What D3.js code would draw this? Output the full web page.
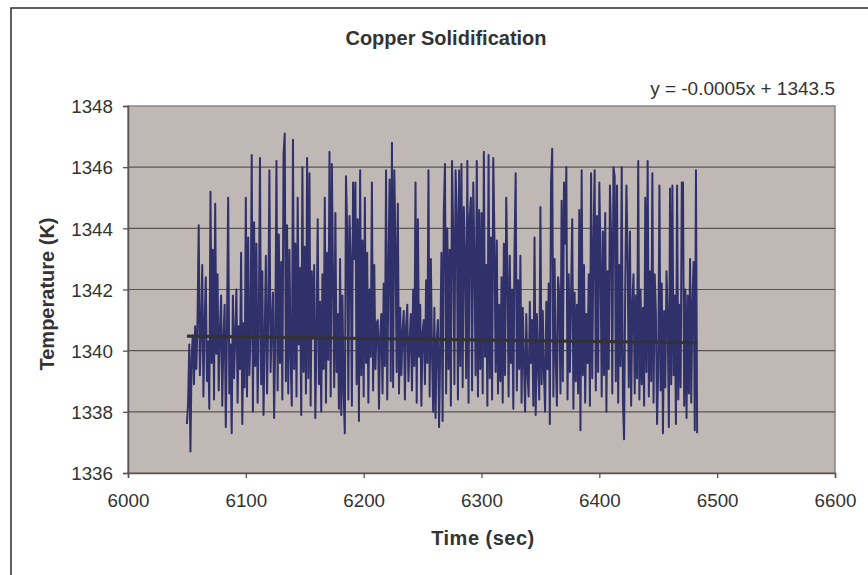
<!DOCTYPE html>
<html>
<head>
<meta charset="utf-8">
<script src="https://cdn.jsdelivr.net/npm/d3@7/dist/d3.min.js"></script>
<style>
  html, body { margin: 0; padding: 0; background: #fff; }
  svg { display: block; }
</style>
</head>
<body>
<svg id="chart" width="868" height="575"></svg>
<script>
// ---------------- DATA ----------------
const chartTitle = "Copper Solidification";
const xAxisTitle = "Time (sec)";
const yAxisTitle = "Temperature (K)";
const xTicks = [6000, 6100, 6200, 6300, 6400, 6500, 6600];
const yTicks = [1336, 1338, 1340, 1342, 1344, 1346, 1348];
const timeStart = 6050;   // sec, first sample
const timeStep = 1;       // sec between samples
const temperature = [
  1337.6, 1338.3, 1340.2, 1336.7, 1339.8, 1340.5, 1338.9, 1340.8, 1339.4, 1341.0,
  1344.1, 1339.2, 1340.6, 1342.8, 1338.5, 1340.9, 1342.4, 1339.0, 1340.3, 1338.1,
  1345.2, 1339.6, 1343.3, 1338.4, 1344.8, 1339.9, 1342.5, 1338.7, 1340.6, 1341.8,
  1338.2, 1340.4, 1341.5, 1337.5, 1340.7, 1345.0, 1338.6, 1340.2, 1337.3, 1341.8,
  1339.1, 1340.5, 1342.0, 1338.3, 1340.8, 1339.4, 1343.2, 1337.6, 1340.9, 1338.8,
  1345.0, 1338.5, 1343.7, 1339.2, 1340.6, 1346.4, 1338.0, 1344.2, 1339.5, 1343.5,
  1338.3, 1340.7, 1346.3, 1338.9, 1342.6, 1337.9, 1340.4, 1343.1, 1338.6, 1341.0,
  1345.9, 1339.3, 1340.8, 1341.9, 1337.8, 1340.5, 1346.2, 1338.7, 1343.8, 1339.6,
  1342.9, 1338.4, 1346.4, 1347.1, 1339.0, 1344.1, 1338.6, 1343.3, 1339.8, 1338.2,
  1346.9, 1339.4, 1343.5, 1338.5, 1345.0, 1340.2, 1342.7, 1337.9, 1346.0, 1339.3,
  1343.4, 1338.6, 1346.3, 1339.1, 1345.8, 1338.2, 1342.6, 1340.4, 1342.8, 1337.8,
  1340.6, 1344.3, 1338.9, 1341.6, 1338.0, 1342.5, 1339.4, 1345.0, 1338.3, 1343.2,
  1339.7, 1346.5, 1338.5, 1346.1, 1342.4, 1338.8, 1344.5, 1339.3, 1341.2, 1338.1,
  1343.0, 1337.9, 1341.8, 1338.6, 1337.3, 1345.7, 1344.0, 1338.4, 1344.4, 1343.0,
  1338.2, 1345.5, 1343.0, 1345.5, 1338.9, 1344.3, 1337.7, 1345.9, 1339.2, 1343.6,
  1338.5, 1345.0, 1339.6, 1343.2, 1338.3, 1342.0, 1339.8, 1345.5, 1338.7, 1342.8,
  1339.4, 1340.9, 1341.0, 1338.1, 1340.5, 1341.2, 1338.6, 1342.2, 1339.5, 1345.9,
  1338.4, 1342.6, 1345.6, 1339.0, 1346.8, 1338.8, 1345.9, 1343.5, 1339.3, 1344.8,
  1338.6, 1341.4, 1339.2, 1340.6, 1341.3, 1338.4, 1340.8, 1341.5, 1339.0, 1340.3,
  1341.2, 1338.7, 1342.0, 1339.5, 1345.5, 1338.3, 1344.3, 1339.8, 1341.5, 1338.2,
  1340.6, 1341.0, 1338.9, 1342.3, 1339.6, 1345.9, 1338.5, 1343.0, 1339.9, 1338.0,
  1341.4, 1337.8, 1340.3, 1341.0, 1337.5, 1340.1, 1343.2, 1337.7, 1344.5, 1346.1,
  1338.6, 1344.0, 1339.4, 1343.3, 1338.2, 1346.2, 1343.8, 1338.9, 1345.9, 1344.5,
  1338.4, 1345.9, 1339.5, 1346.1, 1338.8, 1344.7, 1343.2, 1339.1, 1346.2, 1338.3,
  1344.4, 1345.0, 1338.7, 1345.5, 1343.0, 1339.2, 1346.2, 1338.5, 1344.6, 1339.4,
  1344.5, 1338.6, 1346.5, 1339.8, 1342.8, 1338.2, 1346.4, 1339.1, 1343.7, 1338.4,
  1346.3, 1343.6, 1339.3, 1343.6, 1338.6, 1341.5, 1339.0, 1342.4, 1338.3, 1343.5,
  1339.2, 1345.0, 1342.5, 1338.5, 1343.1, 1339.6, 1342.0, 1338.1, 1343.2, 1345.8,
  1338.7, 1342.3, 1339.4, 1343.1, 1338.3, 1341.4, 1339.7, 1338.0, 1341.2, 1339.3,
  1338.5, 1341.6, 1339.6, 1341.0, 1338.2, 1343.7, 1337.9, 1341.2, 1339.5, 1338.4,
  1344.7, 1338.9, 1341.3, 1339.2, 1338.0, 1341.6, 1339.4, 1342.2, 1337.6, 1345.5,
  1346.6, 1338.5, 1343.0, 1339.7, 1338.2, 1342.4, 1341.8, 1338.6, 1344.9, 1339.0,
  1345.5, 1343.5, 1346.0, 1338.4, 1342.5, 1339.3, 1341.8, 1344.3, 1338.1, 1341.9,
  1339.0, 1341.5, 1338.6, 1344.6, 1337.4, 1345.9, 1339.2, 1342.8, 1338.3, 1341.2,
  1339.6, 1342.5, 1338.2, 1345.8, 1339.1, 1343.5, 1345.9, 1338.7, 1344.4, 1339.3,
  1345.5, 1343.0, 1338.5, 1343.9, 1339.2, 1344.5, 1338.0, 1342.6, 1339.4, 1345.4,
  1343.8, 1338.6, 1346.0, 1345.7, 1339.0, 1345.4, 1338.3, 1342.8, 1339.5, 1346.0,
  1338.4, 1337.1, 1342.2, 1345.4, 1343.0, 1338.8, 1343.9, 1338.2, 1341.5, 1342.5,
  1338.6, 1341.8, 1339.1, 1346.2, 1338.4, 1342.0, 1338.9, 1341.4, 1338.2, 1345.0,
  1339.3, 1346.2, 1338.5, 1342.6, 1339.0, 1345.8, 1338.3, 1342.5, 1341.2, 1337.6,
  1339.4, 1345.4, 1338.7, 1342.2, 1337.3, 1341.3, 1338.8, 1342.6, 1341.0, 1337.5,
  1345.3, 1338.9, 1345.4, 1339.2, 1341.8, 1337.6, 1345.4, 1338.4, 1341.5, 1338.8,
  1345.5, 1345.5, 1338.2, 1342.0, 1337.8, 1341.8, 1338.6, 1343.0, 1338.3, 1341.6,
  1342.9, 1337.4, 1345.9, 1337.3
];
// linear trendline reported on the chart: y = slope * x + intercept
const trendSlope = -0.0005;
const trendIntercept = 1343.5;
const trendLabel = "y = -0.0005x + 1343.5";

// ---------------- DRAW ----------------
const svg = d3.select("#chart");
const font = "'Liberation Sans', Arial, Helvetica, sans-serif";
const plot = { left: 128, top: 106, right: 835, bottom: 473 };

const x = d3.scaleLinear().domain([xTicks[0], xTicks[xTicks.length - 1]]).range([plot.left, plot.right]);
const y = d3.scaleLinear().domain([yTicks[0], yTicks[yTicks.length - 1]]).range([plot.bottom, plot.top]);

// outer chart border (extends past the right and bottom edges)
svg.append("rect")
  .attr("x", 11).attr("y", 8)
  .attr("width", 900).attr("height", 600)
  .attr("fill", "#fff").attr("stroke", "#3a3a3a").attr("stroke-width", 1.6);

// plot area
svg.append("rect")
  .attr("x", plot.left).attr("y", plot.top)
  .attr("width", plot.right - plot.left).attr("height", plot.bottom - plot.top)
  .attr("fill", "#c0b8b5").attr("stroke", "#8c8480").attr("stroke-width", 1.5);

// gridlines
svg.append("g").selectAll("line")
  .data(yTicks.slice(1, -1))
  .join("line")
  .attr("x1", plot.left).attr("x2", plot.right)
  .attr("y1", d => y(d)).attr("y2", d => y(d))
  .attr("stroke", "#5a5553").attr("stroke-width", 1.2);

// axes
const yAxis = svg.append("g")
  .attr("transform", `translate(${plot.left},0)`)
  .call(d3.axisLeft(y).tickValues(yTicks).tickSize(5).tickPadding(10).tickFormat(d3.format("d")));
const xAxis = svg.append("g")
  .attr("transform", `translate(0,${plot.bottom})`)
  .call(d3.axisBottom(x).tickValues(xTicks).tickSize(5).tickPadding(16).tickFormat(d3.format("d")));

[yAxis, xAxis].forEach(g => {
  g.select(".domain").attr("stroke", "#555").attr("stroke-width", 1.5);
  g.selectAll(".tick line").attr("stroke", "#555").attr("stroke-width", 1.3);
  g.selectAll(".tick text")
    .attr("fill", "#333")
    .style("font-family", font)
    .style("font-size", "18.8px");
});
xAxis.selectAll(".tick text").attr("dy", "0.71em");
yAxis.selectAll(".tick text").attr("dy", "0.36em");

// data series
const series = temperature.map((v, i) => ({ t: timeStart + i * timeStep, v }));
svg.append("path")
  .datum(series)
  .attr("fill", "none")
  .attr("stroke", "#30306a")
  .attr("stroke-width", 2)
  .attr("stroke-linejoin", "round")
  .attr("d", d3.line().x(d => x(d.t)).y(d => y(d.v)));

// trend line over the data range
const tExtent = d3.extent(series, d => d.t);
svg.append("line")
  .attr("x1", x(tExtent[0])).attr("y1", y(trendSlope * tExtent[0] + trendIntercept))
  .attr("x2", x(tExtent[1])).attr("y2", y(trendSlope * tExtent[1] + trendIntercept))
  .attr("stroke", "#333333").attr("stroke-width", 3.2);

// texts
svg.append("text")
  .attr("x", 446).attr("y", 45)
  .attr("text-anchor", "middle")
  .attr("fill", "#333")
  .style("font-family", font).style("font-weight", "bold").style("font-size", "20px")
  .text(chartTitle);

svg.append("text")
  .attr("x", plot.right).attr("y", 94.5)
  .attr("text-anchor", "end")
  .attr("fill", "#333")
  .style("font-family", font).style("font-size", "19px")
  .text(trendLabel);

svg.append("text")
  .attr("x", 483).attr("y", 545)
  .attr("text-anchor", "middle")
  .attr("fill", "#333")
  .style("font-family", font).style("font-weight", "bold").style("font-size", "20px")
  .style("letter-spacing", "0.5px")
  .text(xAxisTitle);

svg.append("text")
  .attr("transform", "translate(53.5,294) rotate(-90)")
  .attr("text-anchor", "middle")
  .attr("fill", "#333")
  .style("font-family", font).style("font-weight", "bold").style("font-size", "20px")
  .text(yAxisTitle);
</script>
</body>
</html>
